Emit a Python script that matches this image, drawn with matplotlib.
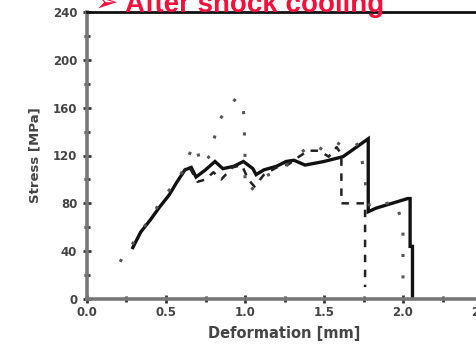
import matplotlib
matplotlib.use("Agg")
import matplotlib.pyplot as plt
from matplotlib.ticker import MultipleLocator, FormatStrFormatter

# ---- data ----
solid_x = [0.29, 0.34, 0.40, 0.46, 0.52, 0.57, 0.62, 0.66, 0.69, 0.75, 0.81, 0.86, 0.93,
           0.99, 1.05, 1.07, 1.12, 1.20, 1.26, 1.31, 1.38, 1.50, 1.62, 1.78, 1.78, 1.83,
           2.03, 2.045, 2.045, 2.06, 2.06]
solid_y = [43, 56, 66, 77, 87, 98, 108, 110, 102, 108, 115, 109, 111,
           115, 109, 104, 108, 111, 115, 116, 112, 115, 119, 134, 73, 76,
           84, 84, 44, 44, 2]

dashed_x = [0.60, 0.64, 0.70, 0.75, 0.80, 0.85, 0.92, 0.98, 1.02, 1.06, 1.12, 1.20, 1.28,
            1.33, 1.40, 1.47, 1.53, 1.58, 1.61, 1.61, 1.68, 1.76, 1.76]
dashed_y = [104, 112, 98, 100, 106, 100, 110, 112, 100, 94, 104, 110, 113,
            118, 124, 124, 119, 127, 121, 80, 80, 80, 10]

dotted_x = [0.21, 0.24, 0.30, 0.40, 0.50, 0.58, 0.64, 0.66, 0.69, 0.72, 0.78, 0.83, 0.88,
            0.92, 0.95, 0.99, 1.00, 1.00, 1.03, 1.06, 1.10, 1.15, 1.25, 1.35, 1.43,
            1.50, 1.58, 1.65, 1.72, 1.75, 1.77, 1.79, 1.85, 1.95, 2.00, 2.00]
dotted_y = [31, 39, 48, 68, 88, 100, 118, 125, 129, 112, 120, 148, 158,
            164, 169, 159, 127, 92, 90, 94, 100, 104, 110, 122, 130,
            124, 131, 125, 130, 109, 89, 76, 78, 82, 62, 12]

x_ticks = [0.0, 0.5, 1.0, 1.5, 2.0, 2.5]
y_ticks = [0, 40, 80, 120, 160, 200, 240]

title = "After shock cooling"
xlabel = "Deformation [mm]"
ylabel = "Stress [MPa]"

fig = plt.figure(figsize=(4.77, 3.48), dpi=100)
ax = fig.add_axes([87 / 477, 49 / 348, 395 / 477, 287 / 348])

ax.plot(solid_x, solid_y, color="#111111", lw=2.4, solid_joinstyle="miter")
ax.plot(dashed_x, dashed_y, color="#222222", lw=1.8, ls=(0, (3, 3)))
ax.plot(dotted_x, dotted_y, color="#555555", lw=2.2, ls=(0, (1, 6)))

ax.set_xlim(0, 2.5)
ax.set_ylim(0, 240)
ax.set_xticks(x_ticks)
ax.set_yticks(y_ticks)
ax.xaxis.set_major_formatter(FormatStrFormatter("%.1f"))
ax.xaxis.set_minor_locator(MultipleLocator(0.25))
ax.yaxis.set_minor_locator(MultipleLocator(20))

for s in ["left", "bottom"]:
    ax.spines[s].set_color("#777777")
    ax.spines[s].set_linewidth(2.6)
ax.spines["top"].set_color("#111111")
ax.spines["top"].set_linewidth(2)
ax.spines["right"].set_visible(False)

ax.tick_params(which="both", direction="inout", color="#333333", width=2,
               labelsize=8.5, labelcolor="#444444")
ax.tick_params(which="major", length=6)
ax.tick_params(which="minor", length=5)
ax.tick_params(axis="x", which="both", top=False, pad=2)
ax.tick_params(axis="y", pad=4)
for lab in ax.get_xticklabels() + ax.get_yticklabels():
    lab.set_fontweight("bold")

ax.set_xlabel(xlabel, fontsize=10.5, fontweight="bold", color="#444444", labelpad=5)
ax.set_ylabel(ylabel, fontsize=9.5, fontweight="bold", color="#444444", labelpad=8)

red = "#f5103c"
fig.text(95 / 477, 1 - 12 / 348, "\u27a2", color=red, fontsize=20, fontweight="bold",
         family=["DejaVu Sans"], ha="left", va="baseline")
fig.text(125 / 477, 1 - 12 / 348, title, color=red, fontsize=20, fontweight="bold",
         family=["Liberation Sans", "DejaVu Sans"], ha="left", va="baseline")

fig.savefig("out.png", dpi=100)
